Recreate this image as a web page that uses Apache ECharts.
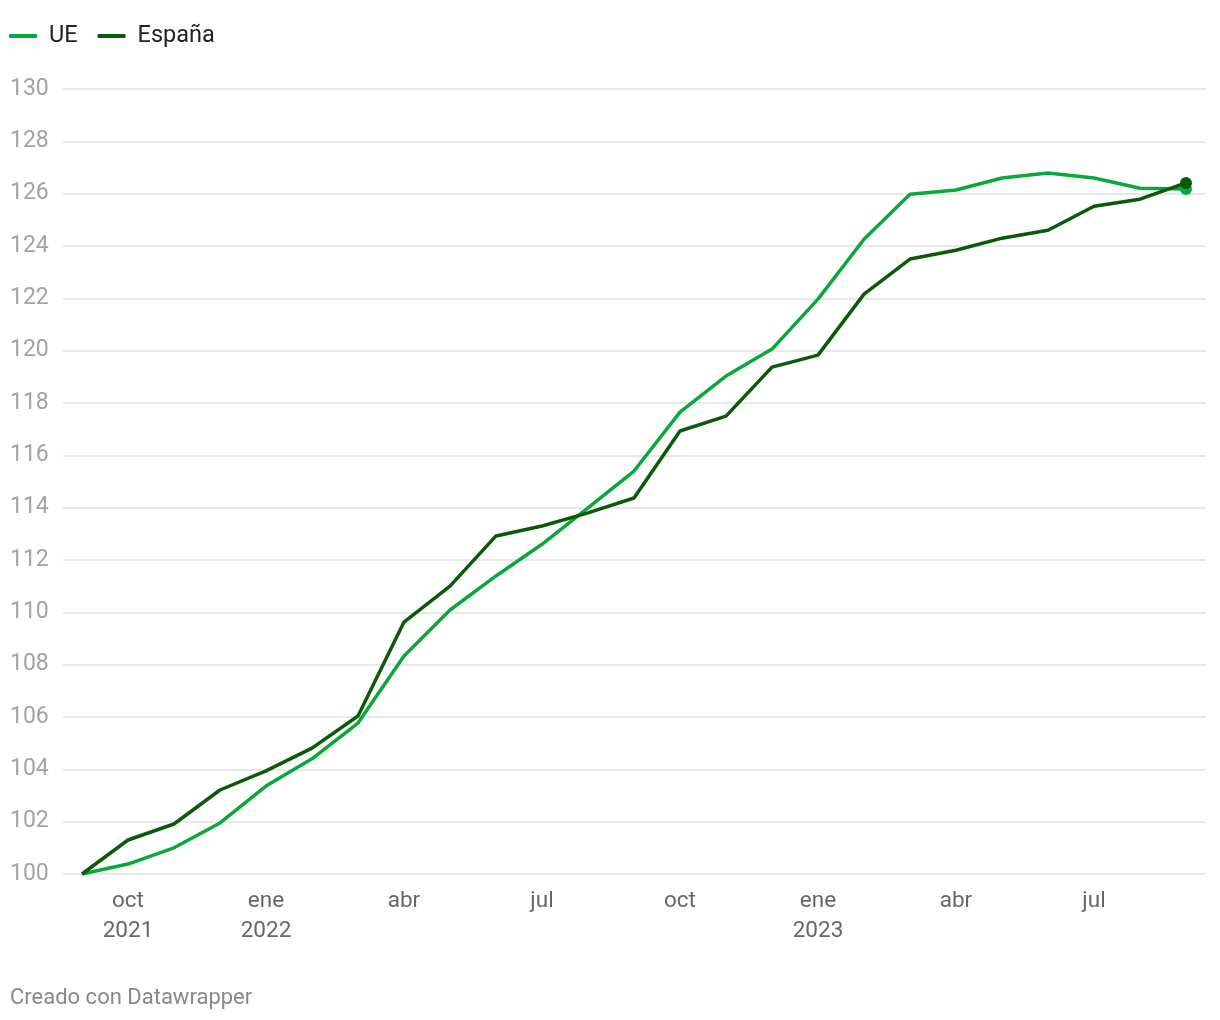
<!DOCTYPE html>
<html><head><meta charset="utf-8">
<script src="https://cdn.jsdelivr.net/npm/echarts@6/dist/echarts.min.js"></script>
<style>html,body{margin:0;padding:0;background:#fff}#c{width:1220px;height:1020px}</style>
</head><body><div id="c"></div>
<script>
const months = ['sep 2021','oct 2021','nov 2021','dic 2021','ene 2022','feb 2022','mar 2022','abr 2022','may 2022','jun 2022','jul 2022','ago 2022','sep 2022','oct 2022','nov 2022','dic 2022','ene 2023','feb 2023','mar 2023','abr 2023','may 2023','jun 2023','jul 2023','ago 2023','sep 2023'];
const tickIdx = [1,4,7,10,13,16,19,22];
const tickLabels = ['oct\n2021','ene\n2022','abr','jul','oct','ene\n2023','abr','jul'];
const ue = [100,100.38,101.0,101.95,103.36,104.4,105.77,108.33,110.09,111.39,112.6,113.99,115.4,117.65,119.03,120.06,121.97,124.26,125.98,126.14,126.6,126.79,126.6,126.21,126.18];
const espana = [100,101.3,101.91,103.21,103.94,104.81,106.04,109.63,111.0,112.92,113.3,113.8,114.37,116.93,117.5,119.37,119.83,122.16,123.5,123.84,124.3,124.6,125.52,125.79,126.41];
const yMin = 100, yMax = 130, yStep = 2;
const C_UE = '#0aa83a', C_ES = '#0b5a08';
const FONT = 'Roboto, sans-serif';

const chart = echarts.init(document.getElementById('c'));
function toPoints(arr, color){
  return arr.map((v,i)=> i===arr.length-1
    ? {value:[i, v], symbol:'circle', symbolSize:12, itemStyle:{color}}
    : [i, v]);
}
chart.setOption({
  animation:false,
  textStyle:{fontFamily:FONT},
  legend:{left:4, top:19, itemWidth:28, itemHeight:4, itemGap:20, icon:'roundRect',
    textStyle:{fontSize:23.5, color:'#222', fontFamily:FONT, padding:[0,0,0,7]},
    data:['UE','España']},
  grid:{left:63, right:14, top:89, bottom:146, containLabel:false, outerBoundsMode:'none'},
  xAxis:{type:'value', min:-0.413, max:24.435,
    axisLine:{show:false}, axisTick:{show:false}, splitLine:{show:false},
    axisLabel:{customValues:tickIdx, margin:12, fontSize:22.5, color:'#666', lineHeight:30, fontFamily:FONT,
      formatter:(v)=> { const k = tickIdx.indexOf(Math.round(v)); return k>=0 ? tickLabels[k] : ''; }}},
  yAxis:{type:'value', min:yMin, max:yMax, interval:yStep,
    axisLine:{show:false}, axisTick:{show:false},
    splitLine:{lineStyle:{color:'#e1e1e1', width:1.5}},
    axisLabel:{align:'left', margin:53, fontSize:23, color:'#a3a3a3', fontFamily:FONT}},
  series:[
    {name:'UE', type:'line', data:toPoints(ue, C_UE), color:C_UE,
      showSymbol:true, symbol:'none', lineStyle:{width:3.5, color:C_UE}, z:3},
    {name:'España', type:'line', data:toPoints(espana, C_ES), color:C_ES,
      showSymbol:true, symbol:'none', lineStyle:{width:3.5, color:C_ES}, z:4}
  ],
  graphic:[{type:'text', left:10, top:987, style:{text:'Creado con Datawrapper', fontSize:22, fill:'#888', fontFamily:FONT}}]
});
</script></body></html>
